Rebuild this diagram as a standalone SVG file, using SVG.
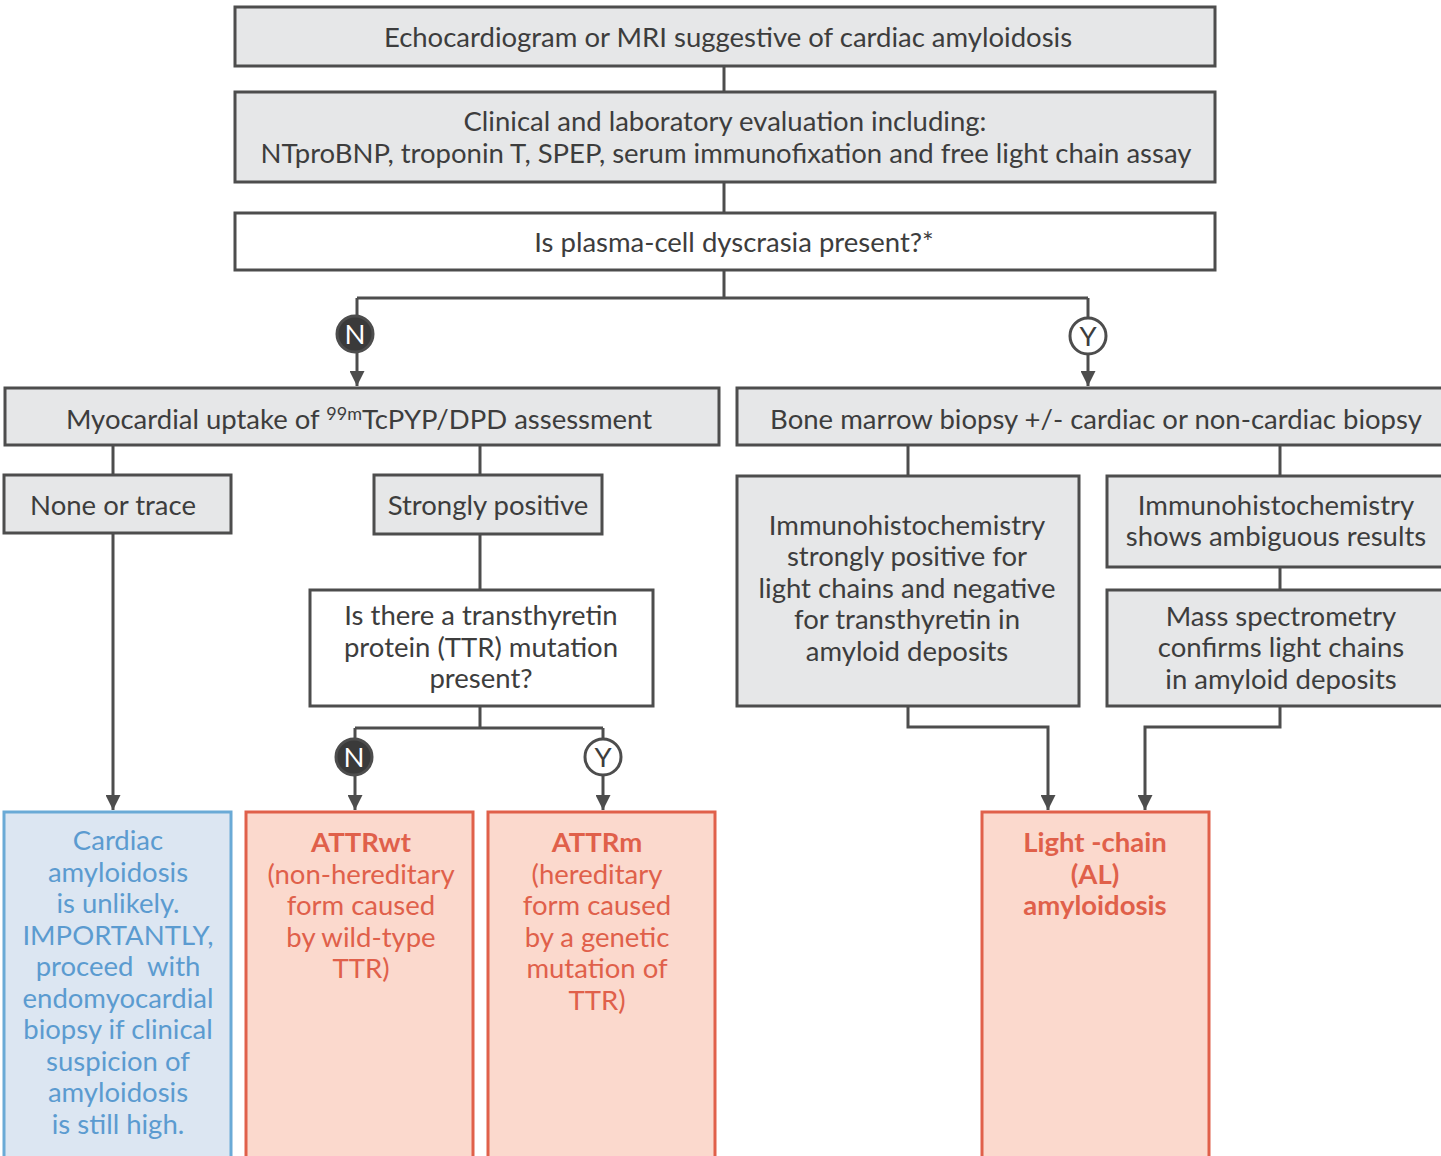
<svg xmlns="http://www.w3.org/2000/svg" width="1441" height="1156" viewBox="0 0 1441 1156">
<defs>
<style>
.g{fill:#e6e7e8;stroke:#4d4d4d;stroke-width:3}
.w{fill:#ffffff;stroke:#4d4d4d;stroke-width:3}
.b{fill:#dce6f2;stroke:#6aaad6;stroke-width:3}
.r{fill:#fbd9cd;stroke:#e0604a;stroke-width:3}
text{font-family:Lato,"Open Sans",sans-serif;font-size:27.5px;text-anchor:middle;fill:#3d3d3d}
.tb{fill:#5b9bd0}
.tr{fill:#e0604a}
.bold{font-weight:bold}
.ln{fill:none;stroke:#4d4d4d;stroke-width:3}
.cn{fill:#3a3a3a;stroke:#4d4d4d;stroke-width:3}
.cy{fill:#ffffff;stroke:#4d4d4d;stroke-width:3}
</style>
<marker id="ah" viewBox="0 0 10 10" refX="10" refY="5" markerWidth="5.5" markerHeight="5" markerUnits="strokeWidth" orient="auto">
<path d="M0,0 L10,5 L0,10 z" fill="#4d4d4d"/>
</marker>
</defs>

<g id="connectors">
<path class="ln" d="M724,66 V92"/>
<path class="ln" d="M724,182 V213"/>
<path class="ln" d="M724,270 V298 M357,298 H1088"/>
<path class="ln" d="M357,298 V386" marker-end="url(#ah)"/>
<path class="ln" d="M1088,298 V386" marker-end="url(#ah)"/>
<path class="ln" d="M113,445 V475"/>
<path class="ln" d="M480,445 V475"/>
<path class="ln" d="M113,533 V810" marker-end="url(#ah)"/>
<path class="ln" d="M480,534 V590"/>
<path class="ln" d="M480,706 V728 M355,728 H603"/>
<path class="ln" d="M355,728 V810" marker-end="url(#ah)"/>
<path class="ln" d="M603,728 V810" marker-end="url(#ah)"/>
<path class="ln" d="M908,445 V476"/>
<path class="ln" d="M1280,445 V476"/>
<path class="ln" d="M1280,567 V590"/>
<path class="ln" d="M908,706 V727 H1048 V810" marker-end="url(#ah)"/>
<path class="ln" d="M1280,706 V727 H1145 V810" marker-end="url(#ah)"/>
<circle class="cn" cx="355" cy="334" r="18"/>
<text x="355" y="344" style="fill:#ffffff">N</text>
<circle class="cy" cx="1088" cy="336" r="18"/>
<text x="1088" y="346">Y</text>
<circle class="cn" cx="354" cy="757" r="18"/>
<text x="354" y="767" style="fill:#ffffff">N</text>
<circle class="cy" cx="603" cy="757" r="18"/>
<text x="603" y="767">Y</text>
</g>

<g id="echo">
<rect class="g" x="235" y="7" width="980" height="59"/>
<text x="728" y="47">Echocardiogram or MRI suggestive of cardiac amyloidosis</text>
</g>
<g id="clinical">
<rect class="g" x="235" y="92" width="980" height="90"/>
<text x="725" y="131">Clinical and laboratory evaluation including:</text>
<text x="726" y="163">NTproBNP, troponin T, SPEP, serum immunofixation and free light chain assay</text>
</g>
<g id="plasma">
<rect class="w" x="235" y="213" width="980" height="57"/>
<text x="734" y="252">Is plasma-cell dyscrasia present?*</text>
</g>
<g id="myocardial">
<rect class="g" x="5" y="388" width="714" height="57"/>
<text x="359" y="429">Myocardial uptake of <tspan font-size="18" dy="-9">99m</tspan><tspan dy="9">TcPYP/DPD assessment</tspan></text>
</g>
<g id="bonemarrow">
<rect class="g" x="737" y="388" width="714" height="57"/>
<text x="1096" y="429">Bone marrow biopsy +/- cardiac or non-cardiac biopsy</text>
</g>
<g id="none">
<rect class="g" x="4" y="475" width="227" height="58"/>
<text x="113" y="515">None or trace</text>
</g>
<g id="strong">
<rect class="g" x="374" y="475" width="228" height="59"/>
<text x="488" y="515">Strongly positive</text>
</g>
<g id="ttr">
<rect class="w" x="310" y="590" width="343" height="116"/>
<text x="481" y="625">Is there a transthyretin</text>
<text x="481" y="657">protein (TTR) mutation</text>
<text x="481" y="688">present?</text>
</g>
<g id="ihcstrong">
<rect class="g" x="737" y="476" width="342" height="230"/>
<text x="907" y="535">Immunohistochemistry</text>
<text x="907" y="566">strongly positive for</text>
<text x="907" y="598">light chains and negative</text>
<text x="907" y="629">for transthyretin in</text>
<text x="907" y="661">amyloid deposits</text>
</g>
<g id="ihcambig">
<rect class="g" x="1107" y="476" width="344" height="91"/>
<text x="1276" y="515">Immunohistochemistry</text>
<text x="1276" y="546">shows ambiguous results</text>
</g>
<g id="massspec">
<rect class="g" x="1107" y="590" width="344" height="116"/>
<text x="1281" y="626">Mass spectrometry</text>
<text x="1281" y="657">confirms light chains</text>
<text x="1281" y="689">in amyloid deposits</text>
</g>
<g id="unlikely">
<rect class="b" x="4" y="812" width="227" height="360"/>
<text class="tb" x="118" y="850">Cardiac</text>
<text class="tb" x="118" y="882">amyloidosis</text>
<text class="tb" x="118" y="913">is unlikely.</text>
<text class="tb" x="118" y="945">IMPORTANTLY,</text>
<text class="tb" x="118" y="976">proceed&#160; with</text>
<text class="tb" x="118" y="1008">endomyocardial</text>
<text class="tb" x="118" y="1039">biopsy if clinical</text>
<text class="tb" x="118" y="1071">suspicion of</text>
<text class="tb" x="118" y="1102">amyloidosis</text>
<text class="tb" x="118" y="1134">is still high.</text>
</g>
<g id="attrwt">
<rect class="r" x="246" y="812" width="227" height="360"/>
<text class="tr bold" x="361" y="852">ATTRwt</text>
<text class="tr" x="361" y="884">(non-hereditary</text>
<text class="tr" x="361" y="915">form caused</text>
<text class="tr" x="361" y="947">by wild-type</text>
<text class="tr" x="361" y="978">TTR)</text>
</g>
<g id="attrm">
<rect class="r" x="488" y="812" width="227" height="360"/>
<text class="tr bold" x="597" y="852">ATTRm</text>
<text class="tr" x="597" y="884">(hereditary</text>
<text class="tr" x="597" y="915">form caused</text>
<text class="tr" x="597" y="947">by a genetic</text>
<text class="tr" x="597" y="978">mutation of</text>
<text class="tr" x="597" y="1010">TTR)</text>
</g>
<g id="al">
<rect class="r" x="982" y="812" width="227" height="360"/>
<text class="tr bold" x="1095" y="852">Light -chain</text>
<text class="tr bold" x="1095" y="884">(AL)</text>
<text class="tr bold" x="1095" y="915">amyloidosis</text>
</g>
</svg>
